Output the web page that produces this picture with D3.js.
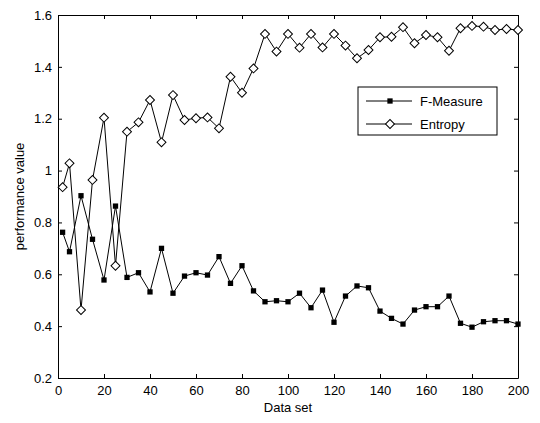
<!DOCTYPE html>
<html>
<head>
<meta charset="utf-8">
<script src="https://cdn.jsdelivr.net/npm/d3@7"></script>
<style>
  body { margin: 0; background: #fff; }
  svg text { font-family: Arial, "Liberation Sans", sans-serif; fill: #000; }
  .axis path, .axis line { stroke: #000; }
</style>
</head>
<body>
<div id="chart"></div>
<script>
// data
const dataSets = [2, 5, 10, 15, 20, 25, 30, 35, 40, 45, 50, 55, 60, 65, 70, 75, 80, 85, 90, 95, 100,
    105, 110, 115, 120, 125, 130, 135, 140, 145, 150, 155, 160, 165, 170, 175, 180, 185, 190, 195, 200];
const fMeasure = [0.762, 0.687, 0.903, 0.735, 0.578, 0.863, 0.588, 0.606, 0.532, 0.700, 0.527,
    0.593, 0.606, 0.597, 0.668, 0.565, 0.633, 0.536, 0.494, 0.498, 0.494,
    0.527, 0.471, 0.539, 0.415, 0.516, 0.555, 0.548, 0.458, 0.430, 0.408,
    0.462, 0.475, 0.475, 0.516, 0.411, 0.396, 0.417, 0.421, 0.421, 0.408];
const entropy = [0.936, 1.028, 0.462, 0.964, 1.204, 0.633, 1.150, 1.186, 1.272, 1.109, 1.291,
    1.195, 1.202, 1.205, 1.163, 1.362, 1.300, 1.394, 1.527, 1.459, 1.527,
    1.474, 1.527, 1.475, 1.527, 1.482, 1.433, 1.465, 1.514, 1.516, 1.553,
    1.491, 1.523, 1.514, 1.462, 1.549, 1.558, 1.555, 1.542, 1.546, 1.542];
const xTicks = [0, 20, 40, 60, 80, 100, 120, 140, 160, 180, 200];
const yTicks = [0.2, 0.4, 0.6, 0.8, 1.0, 1.2, 1.4, 1.6];
const seriesNames = ["F-Measure", "Entropy"];

const margin = {top: 15, right: 22, bottom: 45, left: 58},
    width = 540 - margin.left - margin.right,
    height = 423 - margin.top - margin.bottom;

const svg = d3.select("#chart").append("svg")
    .attr("width", 540)
    .attr("height", 423)
  .append("g")
    .attr("transform", "translate(" + margin.left + "," + margin.top + ")");

const x = d3.scaleLinear().domain([0, 200]).range([0, width]);
const y = d3.scaleLinear().domain([0.2, 1.6]).range([height, 0]);
const fmt = d => String(+d.toFixed(1));

// axes, ticks point inward (matlab style), mirrored on top/right without labels
const tickLen = 4;
svg.append("g").attr("class", "axis")
    .attr("transform", "translate(0," + height + ")")
    .call(d3.axisBottom(x).tickValues(xTicks).tickSize(-tickLen).tickSizeOuter(0).tickPadding(8))
    .call(g => g.selectAll("text").attr("font-size", 13));
svg.append("g").attr("class", "axis")
    .call(d3.axisTop(x).tickValues(xTicks).tickSize(-tickLen).tickSizeOuter(0).tickFormat(""));
svg.append("g").attr("class", "axis")
    .call(d3.axisLeft(y).tickValues(yTicks).tickSize(-tickLen).tickSizeOuter(0).tickPadding(6).tickFormat(fmt))
    .call(g => g.selectAll("text").attr("font-size", 13));
svg.append("g").attr("class", "axis")
    .attr("transform", "translate(" + width + ",0)")
    .call(d3.axisRight(y).tickValues(yTicks).tickSize(-tickLen).tickSizeOuter(0).tickFormat(""));

// axis labels
svg.append("text")
    .attr("x", width / 2)
    .attr("y", height + 34)
    .attr("text-anchor", "middle")
    .attr("font-size", 13)
    .text("Data set");
svg.append("text")
    .attr("transform", "rotate(-90)")
    .attr("x", -height / 2)
    .attr("y", -34)
    .attr("text-anchor", "middle")
    .attr("font-size", 13)
    .text("performance value");

const line = d3.line()
    .x(d => x(d[0]))
    .y(d => y(d[1]));

const fmData = dataSets.map((d, i) => [d, fMeasure[i]]);
const enData = dataSets.map((d, i) => [d, entropy[i]]);

const square = d3.symbol().type(d3.symbolSquare).size(28);
const diamond = d3.symbol().type(d3.symbolSquare).size(40);

svg.append("path").datum(fmData)
    .attr("d", line).attr("fill", "none").attr("stroke", "#000").attr("stroke-width", 1);
svg.append("path").datum(enData)
    .attr("d", line).attr("fill", "none").attr("stroke", "#000").attr("stroke-width", 1);

svg.selectAll(".sq").data(fmData).enter().append("path")
    .attr("class", "sq")
    .attr("d", square)
    .attr("transform", d => "translate(" + x(d[0]) + "," + y(d[1]) + ")")
    .attr("fill", "#000");

svg.selectAll(".dm").data(enData).enter().append("path")
    .attr("class", "dm")
    .attr("d", diamond)
    .attr("transform", d => "translate(" + x(d[0]) + "," + y(d[1]) + ") rotate(45)")
    .attr("fill", "#fff")
    .attr("stroke", "#000")
    .attr("stroke-width", 1);

// legend
const lx = x(130) + 1, ly = 72;
const legend = svg.append("g").attr("transform", "translate(" + lx + "," + ly + ")");
legend.append("rect")
    .attr("width", 139).attr("height", 48)
    .attr("fill", "#fff").attr("stroke", "#000");
seriesNames.forEach((name, i) => {
    const yy = 14 + i * 23;
    legend.append("line")
        .attr("x1", 8).attr("x2", 54).attr("y1", yy).attr("y2", yy)
        .attr("stroke", "#000");
    legend.append("path")
        .attr("d", i === 0 ? square : diamond)
        .attr("transform", "translate(32," + yy + ")" + (i === 0 ? "" : " rotate(45)"))
        .attr("fill", i === 0 ? "#000" : "#fff")
        .attr("stroke", i === 0 ? "none" : "#000");
    legend.append("text")
        .attr("x", 62).attr("y", yy)
        .attr("dy", "0.35em")
        .attr("font-size", 13)
        .text(name);
});
</script>
</body>
</html>
